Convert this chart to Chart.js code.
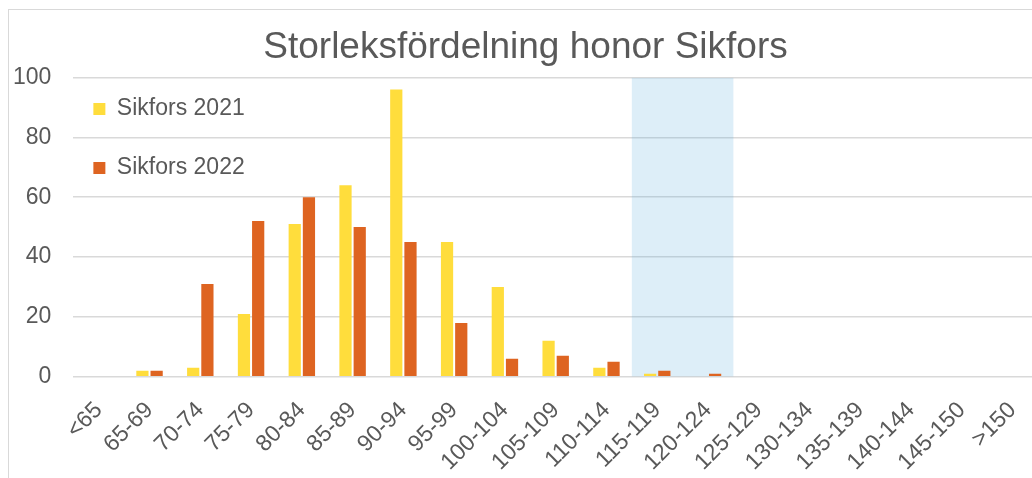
<!DOCTYPE html>
<html>
<head>
<meta charset="utf-8">
<script src="https://cdn.jsdelivr.net/npm/chart.js@4.4.1/dist/chart.umd.min.js"></script>
<style>
  html, body { margin: 0; padding: 0; background: #ffffff; overflow: hidden; width: 1032px; height: 478px; }
  #frame { position: absolute; left: 8px; top: 9px; width: 1034px; height: 500px; border: 1px solid #d9d9d9; background: #fff; }
  canvas { display: block; }
</style>
</head>
<body>
<div id="frame"><canvas id="c" width="1034" height="487"></canvas></div>
<script>
const categories = ['<65','65-69','70-74','75-79','80-84','85-89','90-94','95-99','100-104','105-109','110-114','115-119','120-124','125-129','130-134','135-139','140-144','145-150','>150'];
const sikfors2021 = [0, 2, 3, 21, 51, 64, 96, 45, 30, 12, 3, 1, 0, 0, 0, 0, 0, 0, 0];
const sikfors2022 = [0, 2, 31, 52, 60, 50, 45, 18, 6, 7, 5, 2, 1, 0, 0, 0, 0, 0, 0];
// shaded band over 115-119 and 120-124 (drawn as a mid-stepped filled area, height 100)
const highlightBand = [null, null, null, null, null, null, null, null, null, null, 0, 100, 100, 0, null, null, null, null, null];
const yTicks = [0, 20, 40, 60, 80, 100];
const titleText = 'Storleksfördelning honor Sikfors';

const FONT = "'Liberation Sans', Arial, sans-serif";
const TEXT = '#595959';

const legendInPlot = {
  id: 'legendInPlot',
  afterLayout(chart) {
    const lg = chart.legend, ca = chart.chartArea;
    if (!lg) return;
    lg.left = ca.left; lg.top = ca.top; lg.right = ca.right; lg.bottom = ca.bottom;
    lg.width = ca.right - ca.left; lg.height = ca.bottom - ca.top;
  }
};

new Chart(document.getElementById('c'), {
  type: 'bar',
  data: {
    labels: categories,
    datasets: [
      { label: 'Sikfors 2021', data: sikfors2021, backgroundColor: '#FFDD3C', borderWidth: 0, order: 0,
        categoryPercentage: 0.56, barPercentage: 0.86 },
      { label: 'Sikfors 2022', data: sikfors2022, backgroundColor: '#DE6421', borderWidth: 0, order: 0,
        categoryPercentage: 0.56, barPercentage: 0.86 },
      { type: 'line', label: 'band', data: highlightBand, stepped: 'middle',
        borderWidth: 0, pointRadius: 0, fill: 'origin',
        backgroundColor: 'rgba(85,170,220,0.2)', borderColor: 'rgba(0,0,0,0)', order: 5 }
    ]
  },
  options: {
    responsive: false,
    animation: false,
    layout: { padding: { left: 4, right: 5, top: 4, bottom: 21 } },
    plugins: {
      tooltip: { enabled: false },
      title: {
        display: true, text: titleText, color: TEXT,
        font: { family: FONT, size: 37, weight: 'normal' },
        padding: { top: 12, bottom: 7 }
      },
      legend: {
        position: 'chartArea', align: 'start', fullSize: false,
        labels: {
          color: TEXT, boxWidth: 12, boxHeight: 12, padding: 20,
          font: { family: FONT, size: 23, lineHeight: '39px' },
          generateLabels(chart) {
            const items = Chart.defaults.plugins.legend.labels.generateLabels(chart);
            return items.filter(it => it.datasetIndex < 2).map(it => Object.assign(it, { text: [it.text], lineWidth: 0 }));
          }
        }
      }
    },
    scales: {
      x: {
        offset: true,
        grid: { display: false, drawTicks: false },
        border: { display: false },
        afterFit(scale) { scale.paddingLeft = 0; scale.paddingRight = 0; scale.height -= scale.options.ticks.padding; },
        ticks: { color: TEXT, font: { family: FONT, size: 23 }, minRotation: 45, maxRotation: 45, autoSkip: false, padding: 20 }
      },
      y: {
        min: 0, max: 100,
        afterBuildTicks(scale) { scale.ticks = yTicks.map(v => ({ value: v })); },
        afterFit(scale) { scale.width -= scale.options.ticks.padding; },
        grid: { color: '#d9d9d9', lineWidth: 1.5, drawTicks: false },
        border: { display: false },
        ticks: { color: TEXT, font: { family: FONT, size: 23 }, padding: 22 }
      }
    }
  },
  plugins: [legendInPlot]
});
</script>
</body>
</html>
